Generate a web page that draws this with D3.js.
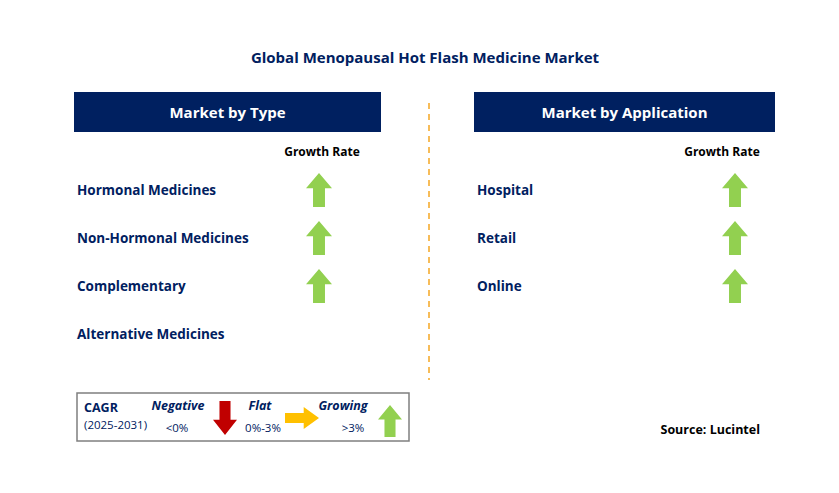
<!DOCTYPE html>
<html>
<head>
<meta charset="utf-8">
<script src="https://cdn.jsdelivr.net/npm/d3@7"></script>
<style>
body { margin: 0; background: #fff; }
text { font-family: "Open Sans", sans-serif; }
</style>
</head>
<body>
<svg width="839" height="493"></svg>
<script>
var title = "Global Menopausal Hot Flash Medicine Market";
var typeCategories = ["Hormonal Medicines", "Non-Hormonal Medicines", "Complementary", "Alternative Medicines"];
var typeGrowth = ["up", "up", "up", null];
var appCategories = ["Hospital", "Retail", "Online"];
var appGrowth = ["up", "up", "up"];

var navy = "#002060", green = "#92D050";
var svg = d3.select("svg");

svg.append("text").attr("x", 425).attr("y", 63).attr("text-anchor", "middle")
    .attr("font-size", 15).attr("font-weight", "bold").attr("fill", navy).text(title);

// arrow shape, pointing up, centred at 0
function arrowPath(w, h) {
    var hw = w / 2, sw = w * 0.23, hh = h * 0.45;
    return "M0," + (-h/2) + "L" + hw + "," + (-h/2 + hh) + "L" + sw + "," + (-h/2 + hh) +
        "L" + sw + "," + (h/2) + "L" + (-sw) + "," + (h/2) + "L" + (-sw) + "," + (-h/2 + hh) +
        "L" + (-hw) + "," + (-h/2 + hh) + "Z";
}

var rowY = d3.scalePoint().domain(d3.range(4)).range([190, 334]);

function panel(x0, w, header, cats, growth, arrowX, labelX) {
    var g = svg.append("g");
    g.append("rect").attr("x", x0).attr("y", 92).attr("width", w).attr("height", 40).attr("fill", navy);
    g.append("text").attr("x", x0 + w / 2).attr("y", 118).attr("text-anchor", "middle")
        .attr("fill", "#fff").attr("font-size", 15).attr("font-weight", "bold").text(header);
    g.append("text").attr("x", labelX).attr("y", 156).attr("text-anchor", "middle")
        .attr("font-size", 12).attr("font-weight", "bold").attr("fill", "#000").text("Growth Rate");
    cats.forEach(function(c, i) {
        g.append("text").attr("x", x0 + 3).attr("y", rowY(i) + 5)
            .attr("font-size", 13.5).attr("font-weight", "bold").attr("fill", navy).text(c);
        if (growth[i] == "up")
            g.append("path").attr("d", arrowPath(26, 34))
                .attr("transform", "translate(" + arrowX + "," + rowY(i) + ")").attr("fill", green);
    });
}
panel(74, 307, "Market by Type", typeCategories, typeGrowth, 319, 322);
panel(474, 301, "Market by Application", appCategories, appGrowth, 735, 722);

svg.append("line").attr("x1", 429).attr("x2", 429).attr("y1", 103).attr("y2", 380)
    .attr("stroke", "#F5A623").attr("stroke-width", 1.5).attr("stroke-dasharray", "6,5");

// legend
var lg = svg.append("g");
lg.append("rect").attr("x", 77).attr("y", 393).attr("width", 332).attr("height", 48)
    .attr("fill", "#fff").attr("stroke", "#7f7f7f").attr("stroke-width", 1.5);
lg.append("text").attr("x", 84).attr("y", 412).attr("font-size", 12.5).attr("font-weight", "bold").attr("fill", navy).text("CAGR");
lg.append("text").attr("x", 84).attr("y", 429).attr("font-size", 11.5).attr("fill", navy).text("(2025-2031)");
[["Negative", 178, "<0%", 177], ["Flat", 260, "0%-3%", 263], ["Growing", 343, ">3%", 353]].forEach(function(d) {
    lg.append("text").attr("x", d[1]).attr("y", 410).attr("text-anchor", "middle").attr("font-size", 12.5)
        .attr("font-weight", "bold").attr("font-style", "italic").attr("fill", navy).text(d[0]);
    lg.append("text").attr("x", d[3]).attr("y", 432).attr("text-anchor", "middle").attr("font-size", 11.5)
        .attr("fill", navy).text(d[2]);
});
lg.append("path").attr("d", arrowPath(24, 34)).attr("transform", "translate(225,418) rotate(180)").attr("fill", "#C00000");
lg.append("path").attr("d", arrowPath(22, 34)).attr("transform", "translate(302,418) rotate(90)").attr("fill", "#FFC000");
lg.append("path").attr("d", arrowPath(24, 32)).attr("transform", "translate(390,421)").attr("fill", green);

svg.append("text").attr("x", 760).attr("y", 434).attr("text-anchor", "end").attr("font-size", 12.5)
    .attr("font-weight", "bold").attr("fill", "#000").text("Source: Lucintel");
</script>
</body>
</html>
